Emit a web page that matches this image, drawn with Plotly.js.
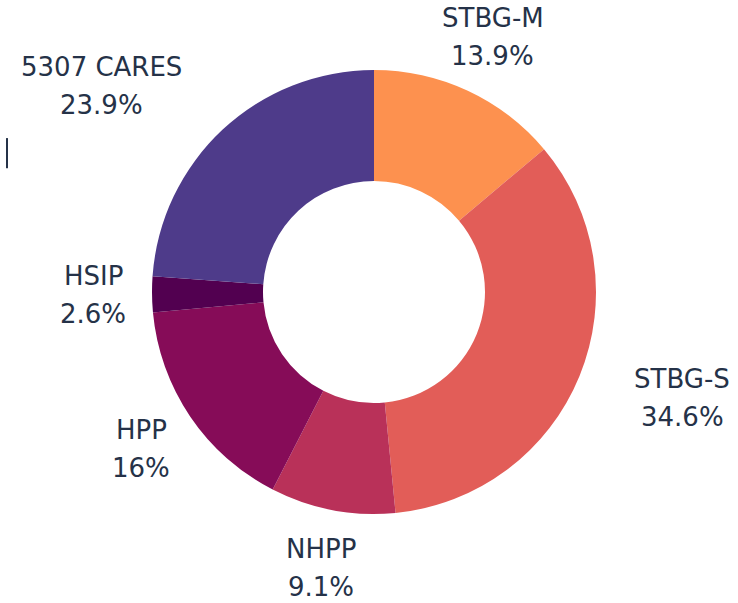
<!DOCTYPE html>
<html>
<head>
<meta charset="utf-8">
<script src="https://cdn.plot.ly/plotly-3.0.1.min.js"></script>
<style>html,body{margin:0;padding:0;background:#fff;}#chart{width:738px;height:603px;}</style>
</head>
<body>
<div id="chart"></div>
<script>
const labels = ["STBG-M", "STBG-S", "NHPP", "HPP", "HSIP", "5307 CARES"];
const values = [13.9, 34.6, 9.1, 16, 2.6, 23.9];
const colors = ["#FD914F", "#E25D58", "#B93159", "#860C58", "#520050", "#4E3B8A"];

// ---- layout constants ----
const W = 738, H = 603;
const cx = 374, cy = 292;      // pie centre in px
const rPie = 222;              // donut outer radius in px
const rLabel = 281;            // radius of label block centres
const lineGap = 19;            // half distance between the two text lines
const labelSide = [0, 1, 0, 0, 0, -1]; // 0 centred, 1 starts at point, -1 ends at point
const FONT = "DejaVu Sans, sans-serif";
const FSIZE = 26;
const TEXTCOL = "#253248";

const donut = {
  type: "pie",
  labels: labels,
  values: values,
  hole: 0.5,
  sort: false,
  direction: "clockwise",
  rotation: 0,
  domain: {
    x: [(cx - rPie) / W, (cx + rPie) / W],
    y: [(H - cy - rPie) / H, (H - cy + rPie) / H]
  },
  marker: {colors: colors, line: {width: 0}},
  textinfo: "none",
  showlegend: false,
  hoverinfo: "label+value"
};

// text width measurement
const ctx = document.createElement("canvas").getContext("2d");
ctx.font = FSIZE + "px " + FONT;

const total = values.reduce((a, b) => a + b, 0);
const annotations = [];
let cum = 0;
values.forEach((v, i) => {
  const mid = (cum + v / 2) / total * 2 * Math.PI;
  cum += v;
  const pctText = v + "%";
  const w = Math.max(ctx.measureText(labels[i]).width, ctx.measureText(pctText).width);
  const px = cx + rLabel * Math.sin(mid) + labelSide[i] * w / 2;
  const py = cy - rLabel * Math.cos(mid);
  [[labels[i], py - lineGap], [pctText, py + lineGap]].forEach(([t, y]) => {
    annotations.push({
      text: t, showarrow: false,
      xref: "paper", yref: "paper",
      x: px / W, y: 1 - y / H,
      xanchor: "center", yanchor: "middle",
      font: {family: FONT, size: FSIZE, color: TEXTCOL}
    });
  });
});

const layout = {
  width: W,
  height: H,
  margin: {l: 0, r: 0, t: 0, b: 0},
  paper_bgcolor: "#ffffff",
  showlegend: false,
  font: {family: FONT, color: TEXTCOL},
  annotations: annotations,
  shapes: [{
    type: "line", xref: "paper", yref: "paper",
    x0: 0.0095, x1: 0.0095, y0: 0.721, y1: 0.771,
    line: {color: TEXTCOL, width: 2}
  }]
};

Plotly.newPlot("chart", [donut], layout, {displayModeBar: false});
</script>
</body>
</html>
